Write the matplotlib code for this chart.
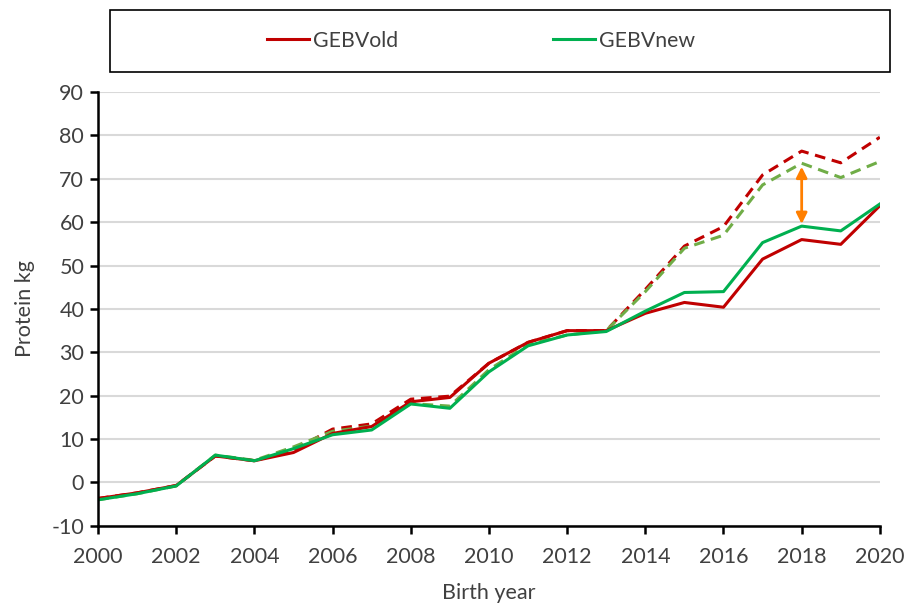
import matplotlib.pyplot as plt
from matplotlib.patches import Rectangle
from matplotlib.lines import Line2D

years = list(range(2000, 2021))

# solid lines
gebv_old = [-3.7, -2.4, -0.7, 6.1, 5.0, 6.9, 11.3, 12.9, 18.6, 19.6, 27.5,
            32.3, 35.0, 35.0, 39.0, 41.5, 40.4, 51.5, 56.0, 54.9, 63.8]
gebv_new = [-4.0, -2.6, -0.8, 6.3, 5.0, 7.8, 11.0, 12.1, 18.1, 17.1, 25.5,
            31.5, 34.0, 34.8, 39.5, 43.8, 44.0, 55.3, 59.1, 58.0, 64.2]
# dashed lines
gebv_old_dash = [-3.7, -2.4, -0.7, 6.1, 5.0, 7.5, 12.3, 13.5, 19.2, 19.9, 27.5,
                 32.3, 35.0, 35.0, 44.5, 54.5, 59.0, 70.9, 76.4, 73.7, 79.6]
gebv_new_dash = [-4.0, -2.6, -0.8, 6.3, 5.1, 8.2, 11.8, 13.0, 18.2, 17.6, 26.0,
                 31.8, 34.0, 35.0, 44.0, 54.0, 57.0, 68.6, 73.6, 70.3, 74.0]

arrow_year = 2018
arrow_top = 72.8
arrow_bottom = 59.6

text_col = '#404040'
plt.rcParams['font.family'] = ['Lato', 'DejaVu Sans']
plt.rcParams['axes.unicode_minus'] = False

fig = plt.figure(figsize=(9.08, 6.1), dpi=100)
ax = fig.add_axes([0.108, 0.138, 0.861, 0.711])

ax.plot(years, gebv_old_dash, color='#C00000', lw=2.2, ls=(0, (3.5, 2.2)))
ax.plot(years, gebv_new_dash, color='#70AD47', lw=2.2, ls=(0, (3.5, 2.2)))
ax.plot(years, gebv_old, color='#C00000', lw=2.2)
ax.plot(years, gebv_new, color='#00B050', lw=2.2)

ax.annotate('', xy=(arrow_year, arrow_bottom), xytext=(arrow_year, arrow_top),
            arrowprops=dict(arrowstyle='<|-|>', color='#FF7F00', lw=2,
                            mutation_scale=16, shrinkA=0, shrinkB=0))

ax.set_xlim(2000, 2020)
ax.set_ylim(-10, 90)
ax.set_xticks(range(2000, 2021, 2))
ax.set_yticks(range(-10, 91, 10))
ax.yaxis.grid(True, color='#D9D9D9', lw=1.5)
ax.set_axisbelow(True)
for s in ['top', 'right']:
    ax.spines[s].set_visible(False)
for s in ['left', 'bottom']:
    ax.spines[s].set_linewidth(1.8)
ax.tick_params(direction='out', length=6, width=1.8, labelsize=15.5,
               labelcolor=text_col, pad=4)
ax.tick_params(axis='x', pad=9)
ax.set_xlabel('Birth year', fontsize=15.5, color=text_col, labelpad=12)
ax.set_ylabel('Protein kg', fontsize=15.5, color=text_col, labelpad=12)

# legend box
fig.patches.append(Rectangle((0.121, 0.882), 0.859, 0.102, transform=fig.transFigure,
                             fill=False, edgecolor='black', lw=1.2))
handles = [Line2D([], [], color='#C00000', lw=2.2), Line2D([], [], color='#00B050', lw=2.2)]
leg = fig.legend(handles, ['GEBVold', 'GEBVnew'], loc='center', bbox_to_anchor=(0.530, 0.933),
                 ncol=2, frameon=False, fontsize=15.3, handlelength=1.95,
                 handletextpad=0.2, columnspacing=7.3)
for t in leg.get_texts():
    t.set_color(text_col)

plt.savefig('out.png', dpi=100)
